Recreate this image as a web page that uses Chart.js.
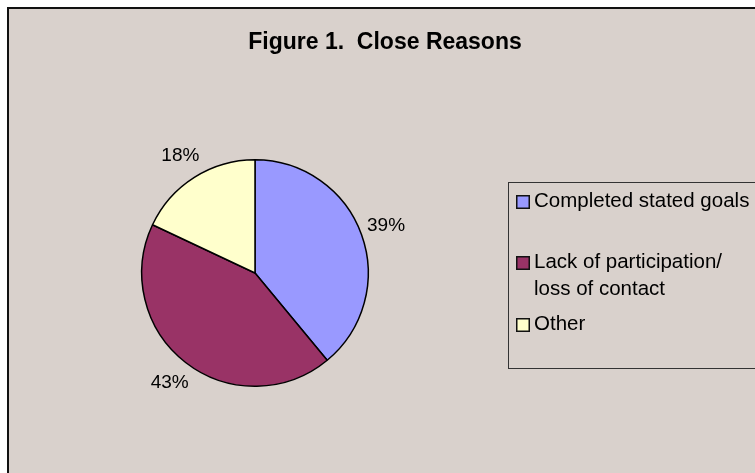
<!DOCTYPE html>
<html>
<head>
<meta charset="utf-8">
<title>Figure 1. Close Reasons</title>
<script src="https://cdn.jsdelivr.net/npm/chart.js@4.4.0/dist/chart.umd.min.js"></script>
<style>
  html, body { margin: 0; padding: 0; background: #fff; overflow: hidden; }
  #frame { position: absolute; left: 7px; top: 7px; width: 800px; height: 520px;
           border: 2px solid #111; background: #D9D1CC; }
  #pie { position: absolute; left: 0; top: 0; }
</style>
</head>
<body>
<div id="frame"></div>
<canvas id="pie" width="755" height="473"></canvas>
<script>
// Chart data
const chartTitle = 'Figure 1.  Close Reasons';
const reasonLabels = ['Completed stated goals', ['Lack of participation/', 'loss of contact'], 'Other'];
const reasonValues = [39, 43, 18];
const reasonColors = ['#9999FF', '#993366', '#FFFFCC'];

const FONT = '"Liberation Sans", Arial, sans-serif';

// Draws title, percent labels and the legend box
const excelLook = {
    id: 'excelLook',
    afterDraw(chart) {
        const ctx = chart.ctx;
        ctx.save();
        ctx.fillStyle = '#000';

        // Title
        ctx.font = 'bold 23px ' + FONT;
        ctx.textAlign = 'center';
        ctx.textBaseline = 'alphabetic';
        ctx.fillText(chartTitle, 385, 49);

        // Percent labels outside the slices
        const total = reasonValues.reduce((a, b) => a + b, 0);
        ctx.font = '19px ' + FONT;
        ctx.textBaseline = 'middle';
        chart.getDatasetMeta(0).data.forEach((arc, i) => {
            const mid = (arc.startAngle + arc.endAngle) / 2;
            const r = arc.outerRadius + 26;
            const x = arc.x + Math.cos(mid) * r;
            const y = arc.y + Math.sin(mid) * r;
            ctx.fillText(Math.round(reasonValues[i] / total * 100) + '%', x, y);
        });

        // Legend box
        ctx.strokeStyle = '#333';
        ctx.lineWidth = 1;
        ctx.strokeRect(508.5, 182.5, 300, 186);

        ctx.font = '20.5px ' + FONT;
        ctx.textAlign = 'left';
        ctx.textBaseline = 'alphabetic';
        const baselines = [207, 268, 330];
        reasonLabels.forEach((label, i) => {
            const lines = Array.isArray(label) ? label : [label];
            const by = baselines[i];
            ctx.fillStyle = reasonColors[i];
            ctx.fillRect(516, by - 12, 14, 14);
            ctx.strokeStyle = '#111';
            ctx.lineWidth = 1.5;
            ctx.strokeRect(516.75, by - 11.25, 12.5, 12.5);
            ctx.fillStyle = '#000';
            lines.forEach((line, j) => ctx.fillText(line, 534, by + j * 27));
        });
        ctx.restore();
    }
};

const ctx = document.getElementById('pie').getContext('2d');
window.pieChart = new Chart(ctx, {
    type: 'pie',
    data: {
        labels: reasonLabels,
        datasets: [{
            data: reasonValues,
            backgroundColor: reasonColors,
            borderColor: '#000',
            borderWidth: 1.5
        }]
    },
    options: {
        responsive: false,
        animation: false,
        layout: {
            padding: { left: 141, right: 386, top: 159, bottom: 86 }
        },
        plugins: {
            legend: { display: false },
            title: { display: false },
            tooltip: { enabled: false }
        }
    },
    plugins: [excelLook]
});
</script>
</body>
</html>
